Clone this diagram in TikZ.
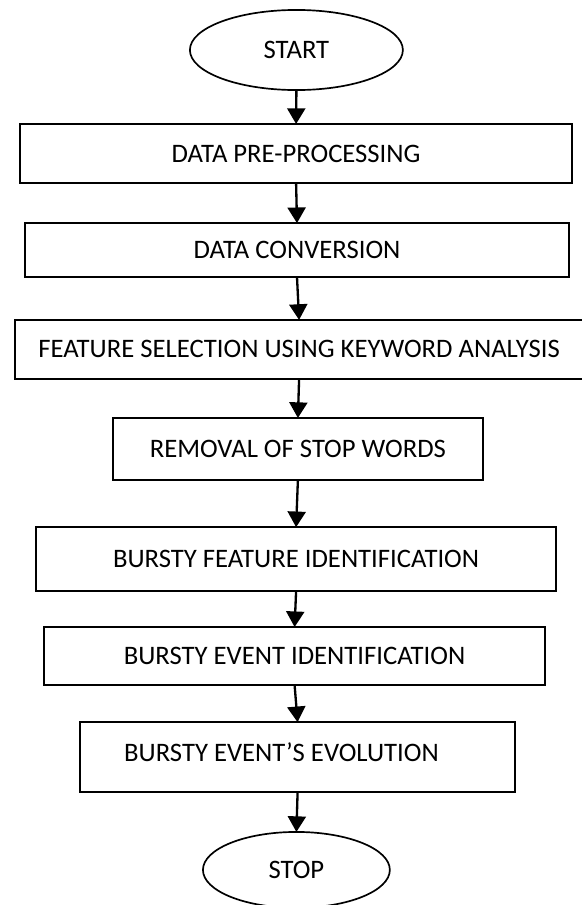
\documentclass[tikz,border=0pt]{standalone}
\usepackage{fontspec}
\setmainfont{Carlito}
\usetikzlibrary{shapes.geometric,arrows.meta}

\begin{document}
\begin{tikzpicture}[x=1cm,y=1cm,
  flowbox/.style={draw,rectangle,line width=1.6pt,inner sep=0pt,outer sep=0pt,font=\fontsize{25.3}{30}\selectfont},
  flowend/.style={draw,ellipse,line width=1.6pt,inner sep=0pt,outer sep=0pt,font=\fontsize{25.3}{30}\selectfont},
  flowarrow/.style={line width=2.2pt,-{Triangle[width=0.60cm,length=0.52cm]}}]
\path[use as bounding box] (0,0) rectangle (19.367,30.167);
% terminals and steps
\node[flowend,minimum width=7.10cm,minimum height=2.67cm] (start) at (9.88,28.50) {START};
\node[flowbox,minimum width=18.40cm,minimum height=1.97cm] (prep) at (9.87,25.05) {DATA PRE-PROCESSING};
\node[flowbox,minimum width=18.13cm,minimum height=1.80cm] (conv) at (9.90,21.83) {DATA CONVERSION};
\node[flowbox,minimum width=18.93cm,minimum height=1.97cm] (feat) at (9.97,18.52) {FEATURE SELECTION USING KEYWORD ANALYSIS};
\node[flowbox,minimum width=12.33cm,minimum height=2.07cm] (stopw) at (9.93,15.20) {REMOVAL OF STOP WORDS};
\node[flowbox,minimum width=17.33cm,minimum height=2.13cm] (bfeat) at (9.87,11.53) {BURSTY FEATURE IDENTIFICATION};
\node[flowbox,minimum width=16.70cm,minimum height=1.93cm] (bevent) at (9.82,8.30) {BURSTY EVENT IDENTIFICATION};
\node[flowbox,minimum width=14.50cm,minimum height=2.33cm,text depth=0.34cm] (evol) at (9.92,4.93) {BURSTY EVENT’S EVOLUTION\hspace*{1.07cm}};
\node[flowend,minimum width=6.23cm,minimum height=2.53cm] (stop) at (9.88,1.17) {STOP};
% connectors
\draw[flowarrow] (start.south) -- (prep.north);
\draw[flowarrow] (prep.south) -- (conv.north);
\draw[flowarrow] (conv.south) -- (feat.north);
\draw[flowarrow] (feat.south) -- (stopw.north);
\draw[flowarrow] (stopw.south) -- (bfeat.north);
\draw[flowarrow] (bfeat.south) -- (bevent.north);
\draw[flowarrow] (bevent.south) -- (evol.north);
\draw[flowarrow] (evol.south) -- (stop.north);
\end{tikzpicture}
\end{document}
